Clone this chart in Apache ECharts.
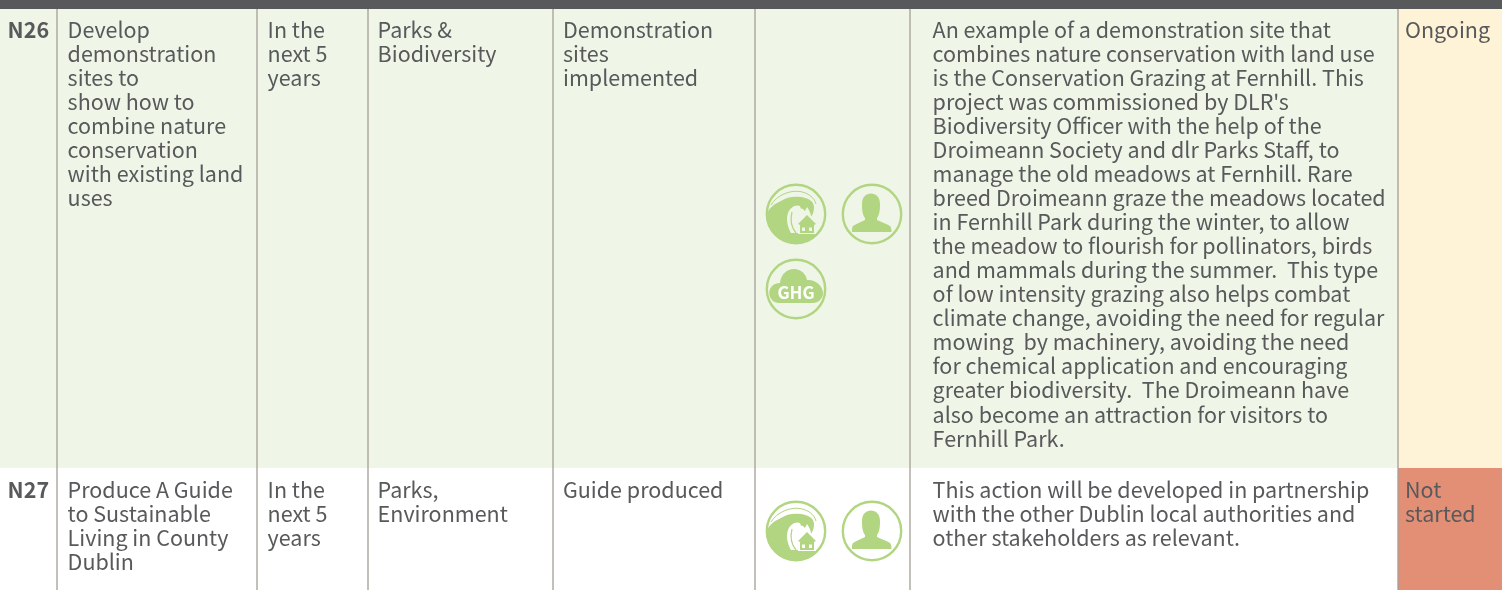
<!DOCTYPE html>
<html><head><meta charset="utf-8">
<style>html,body{margin:0;padding:0;background:#fff}#c{width:1502px;height:590px}</style>
<script src="https://cdn.jsdelivr.net/npm/echarts@6/dist/echarts.min.js"></script>
</head><body><div id="c"></div>
<script>
const ids = ['N26', 'N27'];
const actions = [
  'Develop\ndemonstration\nsites to\nshow how to\ncombine nature\nconservation\nwith existing land\nuses',
  'Produce A Guide\nto Sustainable\nLiving in County\nDublin'
];
const timeframes = ['In the\nnext 5\nyears', 'In the\nnext 5\nyears'];
const departments = ['Parks &\nBiodiversity', 'Parks,\nEnvironment'];
const indicators = ['Demonstration\nsites\nimplemented', 'Guide produced'];
const icons = [['flood', 'people', 'ghg'], ['flood', 'people']];
const notes = [
  "An example of a demonstration site that\ncombines nature conservation with land use\nis the Conservation Grazing at Fernhill. This\nproject was commissioned by DLR's\nBiodiversity Officer with the help of the\nDroimeann Society and dlr Parks Staff, to\nmanage the old meadows at Fernhill. Rare\nbreed Droimeann graze the meadows located\nin Fernhill Park during the winter, to allow\nthe meadow to flourish for pollinators, birds\nand mammals during the summer.  This type\nof low intensity grazing also helps combat\nclimate change, avoiding the need for regular\nmowing  by machinery, avoiding the need\nfor chemical application and encouraging\ngreater biodiversity.  The Droimeann have\nalso become an attraction for visitors to\nFernhill Park.",
  'This action will be developed in partnership\nwith the other Dublin local authorities and\nother stakeholders as relevant.'
];
const statuses = ['Ongoing', 'Not\nstarted'];

/* layout and style, kept apart from the content */
const FONT = '"Noto Sans CJK SC","Noto Sans",sans-serif';
const INK = '#58595b', GREEN = '#b1d580', RULE = '#a39e97';
const rowBg = ['#eff6e8', '#ffffff'];
const statusBg = ['#fff3d7', '#e38f76'];
const rowEdges = [9, 468, 590];
const textTop = [18, 478];
const colRules = [57, 257, 368, 553, 755, 910, 1398];
const textX = [7.6, 67.6, 267.6, 377.6, 563, 932.6, 1405];
const iconCentres = [[796, 214], [872, 214], [796, 289]];
const iconRow2 = [[796, 531], [872, 531]];

const WAVE = 'M1,30 C3,24 8,20 15,17 C20,13 28,12 35,13 C42,14 48,17 48,23 C48,27 47,30 45,33 C45,29 43,26 41,23 L39,27 C37,25 36,24 35,25 L34,22 C29,20 24,24 22,29 C20,35 21,42 25,49 L52,49 C47,56 39,60 30,60 C13,60 0,46 1,30 Z';
const PERSON = 'M23,34 C20,30 20,24 20,20 C20,13 24,9.5 29,9.5 C34,9.5 38,13 38,20 C38,24 38,30 35,34 L35,36 C39,38 45,40 48,42 C49,43 49.5,45 49.5,48 L10,48 C10,45 10,43 11,42 C14,40 19,38 23,36 Z';
const CLOUD = 'M14,24 C15,15 21,10 28,10 C35,10 40,15 41,21 C48,20 57,26 57,34 C57,40 52,44 47,44 L13,44 C8,44 3.3,40 3.3,34 C3.3,28 8,24 14,24 Z';

function pathEl(d, fill, cx, cy) {
  return { type: 'path', shape: { pathData: d, layout: 'none' }, x: cx - 30, y: cy - 30, style: { fill: fill } };
}
function strokeEl(d, color, w, cx, cy) {
  return { type: 'path', shape: { pathData: d, layout: 'none' }, x: cx - 30, y: cy - 30, style: { fill: 'none', stroke: color, lineWidth: w } };
}
function ring(cx, cy) {
  return { type: 'circle', shape: { cx: cx, cy: cy, r: 29.2 }, style: { fill: 'none', stroke: GREEN, lineWidth: 2.4 } };
}
function iconEls(kind, cx, cy, bg) {
  const out = [ring(cx, cy)];
  if (kind === 'flood') {
    out.push(pathEl(WAVE, GREEN, cx, cy));
    out.push(strokeEl('M5,21 C11,11 24,6 34,7.5 C42,9 48,13 50,20', GREEN, 1, cx, cy));
    out.push(pathEl('M41,28 L53,40 L50,42 L50,50 L32,50 L32,42 L29,40 Z', bg, cx, cy));
    out.push(pathEl('M41,31 L50,40 L48,41 L48,49 L34,49 L34,41 L32,40 Z', GREEN, cx, cy));
    out.push(pathEl('M36,43.5 h3 v3.5 h-3 Z M43,43.5 h3 v3.5 h-3 Z', bg, cx, cy));
    out.push(strokeEl('M26,28 C24,36 25,43 30,49', GREEN, 1.2, cx, cy));
  } else if (kind === 'people') {
    out.push(pathEl(PERSON, GREEN, cx, cy));
  } else {
    out.push(pathEl(CLOUD, GREEN, cx, cy));
    out.push({ type: 'text', x: cx, y: cy + 4, style: { text: 'GHG', fill: '#fff', font: 'bold 17px ' + FONT, align: 'center', verticalAlign: 'middle' } });
  }
  return out;
}

const rows = ids.map((id, i) => [i]);
function renderRow(params, api) {
  const i = api.value(0);
  const top = rowEdges[i], bottom = rowEdges[i + 1];
  const p = (x, y) => api.coord([x, y]);
  const [x0, y0] = p(0, top), [x1, y1] = p(1502, bottom);
  const [sx] = p(colRules[6], 0);
  const children = [
    { type: 'rect', shape: { x: x0, y: y0, width: x1 - x0, height: y1 - y0 }, style: { fill: rowBg[i] } },
    { type: 'rect', shape: { x: sx, y: y0, width: x1 - sx, height: y1 - y0 }, style: { fill: statusBg[i] } }
  ];
  colRules.forEach(c => {
    const [cx] = p(c, 0);
    children.push({ type: 'line', shape: { x1: cx, y1: y0, x2: cx, y2: y1 }, style: { stroke: RULE, lineWidth: 1.3 } });
  });
  const texts = [ids[i], actions[i], timeframes[i], departments[i], indicators[i], notes[i], statuses[i]];
  texts.forEach((t, k) => {
    const [tx, ty] = p(textX[k], textTop[i]);
    children.push({
      type: 'text', x: tx, y: ty,
      style: { text: t, fill: INK, font: (k === 0 ? 'bold ' : '') + '21.5px ' + FONT, lineHeight: 24.02, align: 'left', verticalAlign: 'top' }
    });
  });
  const centres = i === 0 ? iconCentres : iconRow2;
  icons[i].forEach((kind, k) => {
    const [cx, cy] = p(centres[k][0], centres[k][1]);
    iconEls(kind, cx, cy, rowBg[i]).forEach(e => children.push(e));
  });
  return { type: 'group', children: children };
}
function renderHeader(params, api) {
  const [x0, y0] = api.coord([0, 0]), [x1, y1] = api.coord([1502, rowEdges[0]]);
  return { type: 'rect', shape: { x: x0, y: y0, width: x1 - x0, height: y1 - y0 }, style: { fill: INK } };
}
const chart = echarts.init(document.getElementById('c'), null, { renderer: 'canvas' });
chart.setOption({
  animation: false,
  backgroundColor: '#fff',
  grid: { left: 0, right: 0, top: 0, bottom: 0 },
  xAxis: { type: 'value', min: 0, max: 1502, show: false },
  yAxis: { type: 'value', min: 0, max: 590, inverse: true, show: false },
  series: [
    { type: 'custom', coordinateSystem: 'cartesian2d', renderItem: renderRow, data: rows, clip: false, silent: true },
    { type: 'custom', coordinateSystem: 'cartesian2d', renderItem: renderHeader, data: [[0]], silent: true }
  ]
});
</script></body></html>
